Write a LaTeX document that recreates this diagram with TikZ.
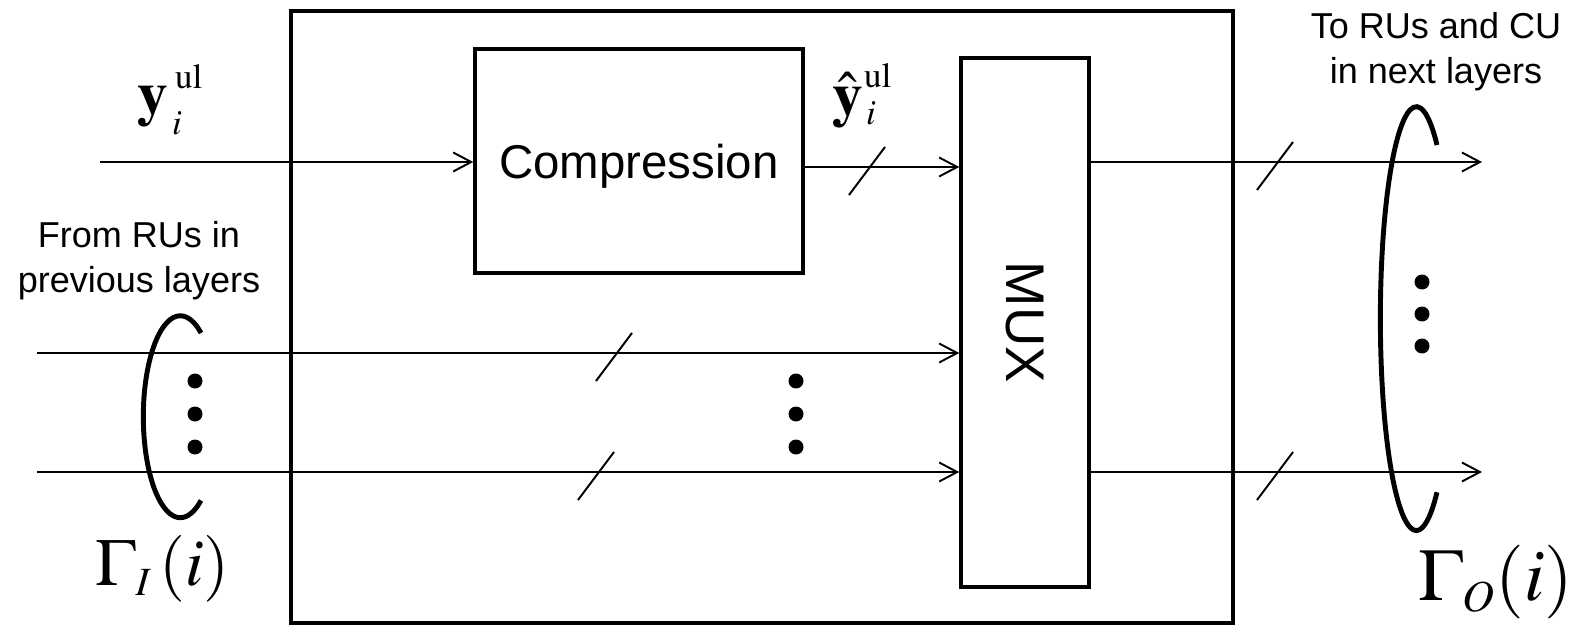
\documentclass[tikz,border=0pt]{standalone}
\usepackage{mathptmx}
\usepackage[no-math]{fontspec}
\setmainfont{Liberation Sans}
\usetikzlibrary{arrows.meta, positioning, calc}

\begin{document}
\begin{tikzpicture}[
    x=0.02cm, y=-0.02cm,
    unitbox/.style={rectangle, draw=black, line width=2.4pt, inner sep=0pt},
    blockbox/.style={rectangle, draw=black, line width=2pt, inner sep=0pt},
    sig/.style={-{Straight Barb[length=0.36cm, width=0.38cm]}, line width=1.1pt},
    bus/.style={line width=1.1pt},
    parenline/.style={line width=2.8pt},
    dotmark/.style={circle, fill=black, inner sep=0pt, minimum size=0.3cm},
    lbl/.style={font=\fontsize{20.5}{25.6}\selectfont, align=center},
    mathlbl/.style={anchor=base west, inner sep=0pt, font=\fontsize{35}{42}\selectfont},
  ]
    \useasboundingbox (0,0) rectangle (1575,625);

    % ── Blocks ───────────────────────────────────
    \node[unitbox, minimum width=18.84cm, minimum height=12.24cm] (unit) at (762,317) {};
    \node[blockbox, minimum width=6.56cm, minimum height=4.48cm, text depth=0pt,
          font=\fontsize{27}{32}\selectfont] (comp) at (639,161) {Compression};
    \node[blockbox, minimum width=2.56cm, minimum height=10.58cm] (mux) at (1025,322.5) {};
    \node[rotate=-90, font=\fontsize{31}{36}\selectfont] (muxlbl) at (mux.center) {MUX};

    % ── Line ends ────────────────────────────────
    \coordinate (y0) at (100,162);
    \coordinate (c0) at ($(comp.east)+(0,6)$);
    \coordinate (r1) at (37,353);
    \coordinate (r2) at (37,472);
    \coordinate (o1) at (1482,162);
    \coordinate (o2) at (1482,472);

    % ── Signals ──────────────────────────────────
    \draw[sig] (y0) -- (y0 -| comp.west);
    \draw[sig] (c0) -- (c0 -| mux.west);
    \draw[sig] (r1) -- (r1 -| mux.west);
    \draw[sig] (r2) -- (r2 -| mux.west);
    \draw[sig] (mux.east |- o1) -- (o1);
    \draw[sig] (mux.east |- o2) -- (o2);

    % bus marks
    \foreach \sx/\sy in {867/167, 614/353, 596/472, 1275/162, 1275/472}
      \draw[bus] (\sx,\sy) ++(-18,28) -- ++(36,-48);

    % ── Dots ─────────────────────────────────────
    \foreach \yy [count=\i] in {381,414,447} {
      \node[dotmark] (dl\i) at (195,\yy) {};
      \node[dotmark] (dm\i) at (796,\yy) {};
    }
    \foreach \yy [count=\i] in {282,314,346}
      \node[dotmark] (dr\i) at (1422,\yy) {};

    % ── Groups ───────────────────────────────────
    \draw[parenline] (201,333) arc[start angle=56, end angle=304, x radius=0.74cm, y radius=2.02cm];
    \draw[parenline] (1437,145) arc[start angle=55, end angle=305, x radius=0.72cm, y radius=4.24cm];

    % ── Labels ───────────────────────────────────
    \node[lbl] (fromlbl) at (139,261) {From RUs in\\previous layers};
    \node[lbl] (tolbl) at (1436,52) {To RUs and CU\\in next layers};
    \node[mathlbl] (yin) at (137,114)
      {$\mathbf{y}$\kern0.14cm\rlap{\raisebox{0.52cm}{\fontsize{20}{22}\selectfont$\mathrm{ul}$}}%
       \kern-0.06cm\raisebox{-0.42cm}{\fontsize{20}{22}\selectfont$i$}};
    \node[mathlbl] (yhat) at (832,115)
      {$\hat{\mathbf{y}}$\kern0.02cm\rlap{\raisebox{0.56cm}{\fontsize{20}{22}\selectfont$\mathrm{ul}$}}%
       \kern0.04cm\raisebox{-0.2cm}{\fontsize{20}{22}\selectfont$i$}};
    \node[mathlbl, font=\fontsize{38}{44}\selectfont] (gin) at (95,585) {$\Gamma_{\scriptscriptstyle I}\kern0.15cm(i)$};
    \node[mathlbl, font=\fontsize{42}{50}\selectfont] (gout) at (1418,600) {$\Gamma_{\scriptscriptstyle O}(i)$};
  \end{tikzpicture}
\end{document}
